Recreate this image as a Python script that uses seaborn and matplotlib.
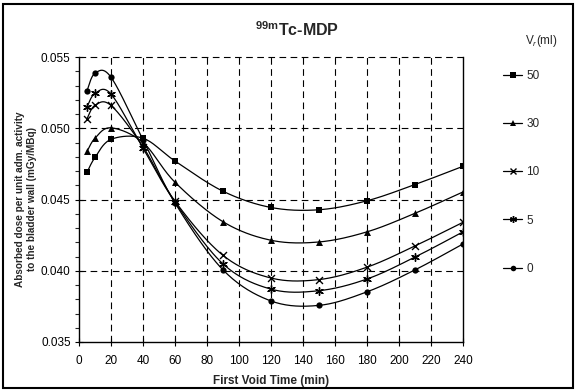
import numpy as np
import pandas as pd
import matplotlib
matplotlib.use("Agg")
import matplotlib.pyplot as plt
import seaborn as sns
from matplotlib.lines import Line2D
from matplotlib.patches import Rectangle

# ---- data ----
times = [5, 10, 20, 40, 60, 90, 120, 150, 180, 210, 240]
v50 = [0.0469, 0.04795, 0.04922, 0.0493, 0.0477, 0.04558, 0.04444, 0.04428, 0.04491, 0.04605, 0.04733]
v30 = [0.04837, 0.0493, 0.05003, 0.0490, 0.04621, 0.04344, 0.04214, 0.04202, 0.04273, 0.04403, 0.04553]
v10 = [0.05067, 0.05161, 0.0516, 0.0487, 0.04488, 0.04108, 0.03949, 0.03938, 0.04025, 0.04174, 0.0434]
v5 = [0.0515, 0.05244, 0.0524, 0.0486, 0.04482, 0.04048, 0.03871, 0.0386, 0.03942, 0.04096, 0.04273]
v0 = [0.05263, 0.05386, 0.05358, 0.0492, 0.04476, 0.04006, 0.03788, 0.03757, 0.03852, 0.04006, 0.04188]
volumes = ["50", "30", "10", "5", "0"]
series = [v50, v30, v10, v5, v0]
xticks = list(range(0, 241, 20))
yticks = [0.035, 0.040, 0.045, 0.050, 0.055]

sns.set_style("ticks")
plt.rcParams['font.family'] = ['Liberation Sans', 'DejaVu Sans']
plt.rcParams['mathtext.fontset'] = 'custom'
plt.rcParams['mathtext.rm'] = 'Liberation Sans'
plt.rcParams['mathtext.bf'] = 'Liberation Sans:bold'
plt.rcParams['mathtext.it'] = 'Liberation Sans:italic'

markers = {"50": "s", "30": "^", "10": "x", "5": (6, 2, 0), "0": "o"}
msizes = {"50": 4.5, "30": 5, "10": 5, "5": 5.5, "0": 4.5}

rows = []
for v, s in zip(volumes, series):
    for t, d in zip(times, s):
        rows.append({"t": t, "dose": d, "V": v})
df = pd.DataFrame(rows)

W, H = 5.76, 3.90
fig = plt.figure(figsize=(W, H), dpi=100)
L, R, T, B = 79, 463, 57, 342
ax = fig.add_axes([L / 576, 1 - B / 390, (R - L) / 576, (B - T) / 390])

xmin, xmax, ymin, ymax = 0, 240, 0.035, 0.055
pw, ph = R - L, B - T


def smooth(xs, ys, n=30):
    # Excel-style smoothed line (Catmull-Rom Bezier) in display-proportional space
    P = np.column_stack([(np.array(xs) - xmin) / (xmax - xmin) * pw,
                         (np.array(ys) - ymin) / (ymax - ymin) * ph])
    out = []
    m = len(P)
    for i in range(m - 1):
        p0 = P[i - 1] if i > 0 else P[i]
        p1, p2 = P[i], P[i + 1]
        p3 = P[i + 2] if i + 2 < m else P[i + 1]
        c1 = p1 + (p2 - p0) / 6.0
        c2 = p2 - (p3 - p1) / 6.0
        tt = np.linspace(0, 1, n)[:, None]
        seg = ((1 - tt) ** 3) * p1 + 3 * ((1 - tt) ** 2) * tt * c1 + 3 * (1 - tt) * tt ** 2 * c2 + tt ** 3 * p2
        out.append(seg if i == 0 else seg[1:])
    Q = np.vstack(out)
    return Q[:, 0] / pw * (xmax - xmin) + xmin, Q[:, 1] / ph * (ymax - ymin) + ymin


for v, s in zip(volumes, series):
    sx, sy = smooth(times, s)
    ax.plot(sx, sy, color="black", lw=0.9, zorder=3)
    sub = df[df["V"] == v]
    sns.scatterplot(data=sub, x="t", y="dose", marker=markers[v], color="black",
                    s=msizes[v] ** 2, linewidth=1.0 if v in ("10", "5") else 0,
                    edgecolor="black", ax=ax, zorder=4, legend=False)

ax.set_xlim(xmin, xmax)
ax.set_ylim(ymin, ymax)
ax.set_xticks(xticks)
ax.set_yticks(yticks)
ax.set_yticklabels([f"{y:.3f}" for y in yticks])
ax.set_yticks(np.arange(0.035, 0.0551, 0.001), minor=True)
ax.tick_params(axis="both", which="major", labelsize=8.5, length=6, width=0.8,
               direction="inout", colors="black")
ax.tick_params(axis="y", which="major", pad=3)
ax.tick_params(axis="x", which="major", pad=6)
ax.tick_params(axis="y", which="minor", length=3, width=0.8, direction="out")

for x in xticks[1:-1]:
    ax.axvline(x, color="black", lw=0.8, ls=(0, (6, 4)), zorder=1)
for y in [0.040, 0.045, 0.050, 0.055]:
    ax.axhline(y, color="black", lw=0.8, ls=(0, (6, 4)), zorder=1, clip_on=False)

ax.spines["top"].set_visible(False)
ax.spines["right"].set_visible(True)
for sp in ["left", "bottom", "right"]:
    ax.spines[sp].set_linewidth(1.0)
    ax.spines[sp].set_color("black")

ax.set_xlabel("")
ax.set_ylabel("")
fig.text((L + R) / 2 / 576, 1 - 381 / 390, "First Void Time (min)", ha="center",
         va="center", fontsize=8.5, fontweight="bold")
fig.text(26 / 576, 1 - 199 / 390,
         "Absorbed dose per unit adm. activity\nto the bladder wall (mGy/MBq)",
         rotation=90, ha="center", va="center", fontsize=7.2, fontweight="bold",
         multialignment="center", linespacing=1.2)
fig.text(297 / 576, 1 - 30 / 390, r"$\mathbf{^{99m}}$Tc-MDP", ha="center",
         va="center", fontsize=11.5, fontweight="bold")

fig.text(541 / 576, 1 - 41 / 390, "V$_r$(ml)", ha="center", va="center", fontsize=8.5)
handles = [Line2D([0], [0], color="black", lw=0.9, marker=markers[v],
                  markersize=msizes[v] - 0.5, markeredgewidth=1.0 if v in ("10", "5") else 0)
           for v in volumes]
fs = 8.5
fig.legend(handles, volumes, loc="upper left",
           bbox_to_anchor=(503 / 576, 1 - 70 / 390), frameon=False,
           fontsize=fs, labelspacing=(48 / (fs * 100 / 72)) - 1.0,
           handlelength=19 / (fs * 100 / 72), handletextpad=0.35,
           borderaxespad=0, borderpad=0)

fig.add_artist(Rectangle((3 / 576, 2 / 390), 570 / 576, 384 / 390,
                         transform=fig.transFigure, fill=False, lw=1.5,
                         edgecolor="black"))

fig.savefig("out.png", dpi=100)
